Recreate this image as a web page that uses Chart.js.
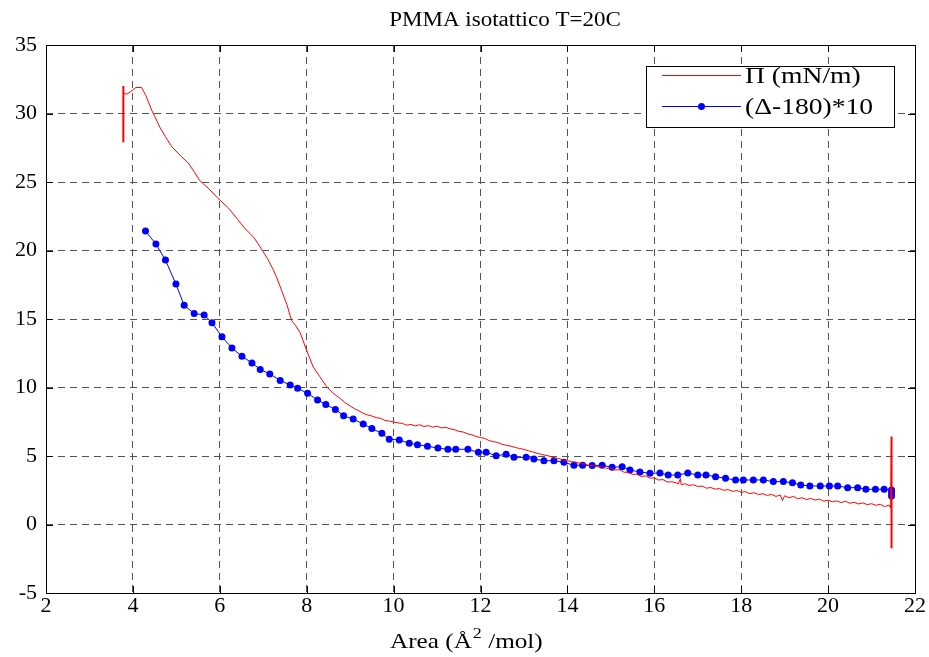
<!DOCTYPE html>
<html>
<head>
<meta charset="utf-8">
<script src="https://cdn.jsdelivr.net/npm/chart.js@4.4.1/dist/chart.umd.min.js"></script>
<style>
  html, body { margin: 0; padding: 0; background: #fff; }
  #wrap { width: 929px; height: 657px; }
</style>
</head>
<body>
<div id="wrap"><canvas id="pmmaChart"></canvas></div>
<script>
// Pressure curve (red), traced from large area to small
const piArea = [21.46, 21.46, 21.44, 21.4, 21.3, 21.2, 21.1, 21.0, 20.9, 20.8, 20.7, 20.6, 20.5, 20.4, 20.3,
  20.2, 20.1, 20.0, 19.9, 19.8, 19.7, 19.6, 19.5, 19.4, 19.3, 19.2, 19.1, 19.0, 18.95, 18.9, 18.8, 18.7, 18.6,
  18.5, 18.4, 18.3, 18.2, 18.1, 18.0, 17.9, 17.8, 17.7, 17.6, 17.5, 17.4, 17.3, 17.2, 17.1, 17.0, 16.9, 16.8,
  16.7, 16.62, 16.6, 16.55, 16.5, 16.4, 16.3, 16.2, 16.1, 16.0, 15.9, 15.8, 15.7, 15.6, 15.5, 15.4, 15.3,
  15.2, 15.1, 15.0, 14.9, 14.8, 14.7, 14.6, 14.5, 14.4, 14.3, 14.2, 14.1, 14.0, 13.9, 13.8, 13.7, 13.6, 13.5,
  13.4, 13.3, 13.2, 13.1, 13.0, 12.9, 12.8, 12.7, 12.6, 12.5, 12.4, 12.3, 12.2, 12.1, 12.0, 11.9, 11.8, 11.7,
  11.6, 11.5, 11.4, 11.3, 11.2, 11.1, 11.0, 10.9, 10.8, 10.7, 10.6, 10.5, 10.4, 10.3, 10.2, 10.1, 10.0, 9.9,
  9.8, 9.7, 9.6, 9.5, 9.4, 9.3, 9.2, 9.1, 9.0, 8.9, 8.77, 8.6, 8.46, 8.3, 8.15, 8.0, 7.85, 7.75, 7.65, 7.55,
  7.42, 7.3, 7.23, 7.1, 7.0, 6.88, 6.77, 6.58, 6.39, 6.2, 5.96, 5.75, 5.54, 5.4, 5.27, 5.1, 4.89, 4.75, 4.62,
  4.5, 4.43, 4.3, 4.2, 4.07, 3.95, 3.85, 3.78, 3.78, 3.78];
const piValues = [-1.74, 6.41, 1.2, 1.42, 1.30, 1.48, 1.40, 1.52, 1.45, 1.58, 1.50, 1.62, 1.55, 1.70, 1.60,
  1.72, 1.66, 1.78, 1.70, 1.85, 1.78, 1.90, 1.82, 1.95, 1.88, 2.05, 1.95, 2.10, 1.75, 2.15, 2.05, 2.20, 2.12,
  2.25, 2.18, 2.32, 2.25, 2.40, 2.35, 2.48, 2.42, 2.55, 2.50, 2.62, 2.58, 2.70, 2.65, 2.80, 2.78, 2.90, 2.85,
  2.98, 2.90, 3.35, 2.95, 3.05, 3.12, 3.10, 3.28, 3.25, 3.40, 3.38, 3.55, 3.50, 3.68, 3.65, 3.80, 3.82,
  4.00, 3.98, 4.12, 4.10, 4.22, 4.20, 4.32, 4.30, 4.42, 4.45, 4.55, 4.58, 4.66, 4.70, 4.82, 4.85, 4.98, 5.05,
  5.12, 5.20, 5.30, 5.38, 5.48, 5.55, 5.62, 5.72, 5.78, 5.85, 5.98, 6.05, 6.12, 6.28, 6.35, 6.42, 6.55, 6.62,
  6.75, 6.80, 6.92, 6.98, 7.10, 7.05, 7.18, 7.10, 7.22, 7.15, 7.28, 7.20, 7.30, 7.25, 7.38, 7.42, 7.48, 7.55,
  7.60, 7.75, 7.80, 7.92, 8.0, 8.12, 8.30, 8.45, 8.65, 8.85, 9.2, 9.6, 10.05, 10.8, 11.5, 12.7, 14.0, 14.5, 14.9, 16.0,
  17.1, 18.1, 18.6, 19.4, 19.9, 20.5, 21.0, 21.6, 22.35, 23.1, 23.8, 24.5, 25.1, 25.8, 26.4, 26.9, 27.6, 28.3, 29.0,
  29.8, 30.25, 31.3, 31.9, 31.9, 31.6, 31.4, 31.5, 32.0, 27.9];

// Potential series (blue), (Delta-180)*10
const deltaArea = [4.29, 4.53, 4.75, 4.99, 5.18, 5.41, 5.64, 5.82, 6.05, 6.28, 6.51, 6.74, 6.93, 7.15, 7.39,
  7.62, 7.79, 8.02, 8.25, 8.44, 8.66, 8.85, 9.07, 9.30, 9.50, 9.73, 9.90, 10.13, 10.36, 10.55, 10.78, 11.02,
  11.25, 11.43, 11.71, 11.95, 12.13, 12.36, 12.59, 12.77, 13.05, 13.23, 13.46, 13.69, 13.92, 14.15, 14.35,
  14.57, 14.80, 15.03, 15.26, 15.44, 15.67, 15.90, 16.13, 16.32, 16.54, 16.77, 17.0, 17.19, 17.41, 17.64,
  17.87, 18.05, 18.28, 18.51, 18.74, 18.97, 19.18, 19.37, 19.58, 19.82, 20.03, 20.22, 20.45, 20.68, 20.87,
  21.09, 21.29, 21.46, 21.46, 21.46];
const deltaValues = [21.42, 20.47, 19.3, 17.55, 16.0, 15.4, 15.3, 14.73, 13.7, 12.88, 12.28, 11.79, 11.32, 10.99,
  10.52, 10.18, 9.94, 9.58, 9.09, 8.76, 8.4, 7.94, 7.7, 7.34, 7.0, 6.66, 6.22, 6.17, 5.93, 5.83, 5.71, 5.58,
  5.49, 5.49, 5.49, 5.27, 5.27, 5.02, 5.12, 4.9, 4.9, 4.78, 4.66, 4.66, 4.54, 4.32, 4.33,
  4.3, 4.32, 4.17, 4.22, 3.98, 3.83, 3.74, 3.76, 3.61, 3.61, 3.76, 3.61, 3.61, 3.49, 3.37,
  3.25, 3.25, 3.25, 3.25, 3.13, 3.13, 3.05, 2.88, 2.81, 2.81, 2.81, 2.81, 2.69, 2.69, 2.57,
  2.57, 2.57, 2.52, 2.3, 2.08];

const xTicks = [2, 4, 6, 8, 10, 12, 14, 16, 18, 20, 22];
const yTicks = [-5, 0, 5, 10, 15, 20, 25, 30, 35];
const chartTitle = 'PMMA isotattico T=20C';
const xTitleParts = ['Area (\u00C5', '2', ' /mol)'];
const legendLabels = ['\u03A0 (mN/m)', '(\u0394-180)*10'];

const serif = 'Liberation Serif, Times New Roman, serif';

function toPoints(xs, ys) {
    return xs.map((x, i) => ({ x: x, y: ys[i] }));
}

// text drawn a bit wider than normal, the original glyphs are stretched sideways
function wideText(ctx, text, x, y, sx) {
    ctx.save();
    ctx.translate(x, y);
    ctx.scale(sx, 1);
    ctx.fillText(text, 0, 0);
    ctx.restore();
    return ctx.measureText(text).width * sx;
}

// Box, inward ticks, titles and the legend inside the axes, MATLAB style
const matlabFrame = {
    id: 'matlabFrame',
    afterDraw(chart) {
        const ctx = chart.ctx;
        const area = chart.chartArea;
        const xs = chart.scales.x;
        const ys = chart.scales.y;
        ctx.save();
        ctx.strokeStyle = '#000';
        ctx.lineWidth = 1;
        ctx.setLineDash([]);
        ctx.beginPath();
        xTicks.forEach(v => {
            const px = Math.round(xs.getPixelForValue(v)) + 0.5;
            ctx.moveTo(px, area.bottom); ctx.lineTo(px, area.bottom - 7);
            ctx.moveTo(px, area.top); ctx.lineTo(px, area.top + 7);
        });
        yTicks.forEach(v => {
            const py = Math.round(ys.getPixelForValue(v)) + 0.5;
            ctx.moveTo(area.left, py); ctx.lineTo(area.left + 7, py);
            ctx.moveTo(area.right, py); ctx.lineTo(area.right - 7, py);
        });
        ctx.stroke();
        ctx.strokeRect(Math.round(area.left) + 0.5, Math.round(area.top) + 0.5,
            Math.round(area.right - area.left), Math.round(area.bottom - area.top));

        ctx.fillStyle = '#000';
        ctx.textAlign = 'left';
        ctx.textBaseline = 'alphabetic';

        // title
        ctx.font = '20px ' + serif;
        const tw = ctx.measureText(chartTitle).width * 1.15;
        wideText(ctx, chartTitle, 505 - tw / 2, 26, 1.15);

        // x axis title with a raised 2
        let x = 390;
        ctx.font = '21px ' + serif;
        x += wideText(ctx, xTitleParts[0], x, 648, 1.2) + 1;
        ctx.font = '15px ' + serif;
        x += wideText(ctx, xTitleParts[1], x, 638, 1.2);
        ctx.font = '21px ' + serif;
        wideText(ctx, xTitleParts[2], x, 648, 1.2);

        // legend
        const lx = 646, ly = 66, lw = 248, lh = 61;
        ctx.fillStyle = '#fff';
        ctx.fillRect(lx, ly, lw, lh);
        ctx.strokeRect(lx + 0.5, ly + 0.5, lw, lh);
        const rows = [75, 106];
        const colors = ['#ff0000', '#0000ff'];
        ctx.font = '23px ' + serif;
        rows.forEach((ry, i) => {
            ctx.strokeStyle = colors[i];
            ctx.lineWidth = 1;
            ctx.beginPath();
            ctx.moveTo(662, ry + 0.5);
            ctx.lineTo(741, ry + 0.5);
            ctx.stroke();
            if (i === 1) {
                ctx.fillStyle = colors[i];
                ctx.beginPath();
                ctx.arc(701.5, ry + 0.5, 3.5, 0, Math.PI * 2);
                ctx.fill();
            }
            ctx.fillStyle = '#000';
            wideText(ctx, legendLabels[i], 745, ry + 8, 1.2);
        });
        ctx.restore();
    }
};

const ctx = document.getElementById('pmmaChart').getContext('2d');
new Chart(ctx, {
    type: 'scatter',
    data: {
        datasets: [{
            label: legendLabels[0],
            data: toPoints(piArea, piValues),
            showLine: true,
            borderColor: '#ff0000',
            borderWidth: 1,
            pointRadius: 0,
            segment: {
                // the vertical jumps at both ends are drawn heavier
                borderWidth: c => (c.p0.parsed.x === c.p1.parsed.x ? 2 : 1)
            }
        }, {
            label: legendLabels[1],
            data: toPoints(deltaArea, deltaValues),
            showLine: true,
            borderColor: '#0000ff',
            backgroundColor: '#0000ff',
            borderWidth: 1,
            pointRadius: 3.5,
            pointBorderWidth: 0
        }]
    },
    options: {
        responsive: true,
        maintainAspectRatio: false,
        animation: false,
        layout: { padding: { top: 45, right: 14, left: 0, bottom: 0 } },
        scales: {
            x: {
                type: 'linear',
                min: 2,
                max: 22,
                afterFit: s => { s.height = 64; },
                afterBuildTicks: s => { s.ticks = xTicks.map(v => ({ value: v })); },
                ticks: { color: '#000', font: { family: serif, size: 22 }, padding: 0, maxRotation: 0 },
                grid: { color: '#555', drawTicks: false, lineWidth: 1 },
                border: { display: false, dash: [7, 5] }
            },
            y: {
                type: 'linear',
                min: -5,
                max: 35,
                afterFit: s => { s.width = 46; },
                afterBuildTicks: s => { s.ticks = yTicks.map(v => ({ value: v })); },
                ticks: { color: '#000', font: { family: serif, size: 22 }, padding: 9 },
                grid: { color: '#555', drawTicks: false, lineWidth: 1 },
                border: { display: false, dash: [7, 5] }
            }
        },
        plugins: {
            legend: { display: false },
            title: { display: false },
            tooltip: { enabled: false }
        }
    },
    plugins: [matlabFrame]
});
</script>
</body>
</html>
